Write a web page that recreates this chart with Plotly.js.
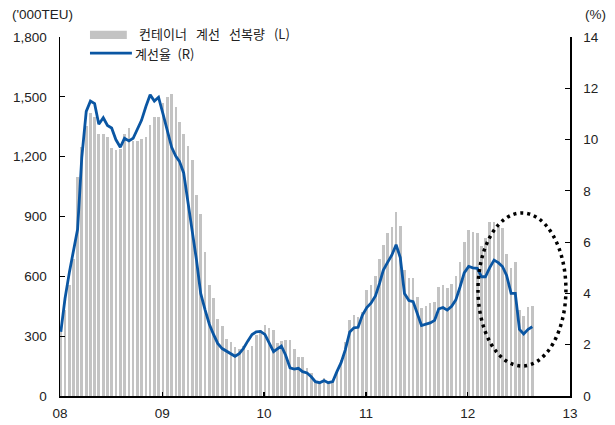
<!DOCTYPE html>
<html>
<head>
<meta charset="utf-8">
<script src="https://cdn.plot.ly/plotly-3.0.1.min.js"></script>
<style>html,body{margin:0;padding:0;background:#fff;}#chart{width:615px;height:425px;}</style>
</head>
<body>
<div id="chart"></div>
<script>
// Semi-monthly observations, Jan 2008 .. Aug 2012
const startYear = 2008;
const idleFleet = [ // '000 TEU (left axis)
  320, 430, 555, 685, 1100, 1250, 1355, 1420, 1400, 1315,
  1315, 1300, 1245, 1235, 1240, 1315, 1345, 1280, 1280, 1290,
  1300, 1360, 1400, 1400, 1470, 1500, 1515, 1450, 1375, 1315,
  1255, 1185, 1010, 915, 720, 555, 490, 385, 350, 285,
  272, 245, 238, 252, 232, 250, 305, 330, 358, 340,
  330, 265, 275, 281, 281, 236, 194, 194, 139, 114,
  72, 67, 92, 72, 72, 122, 180, 272, 381, 406,
  394, 422, 534, 556, 601, 687, 757, 817, 849, 924,
  852, 632, 590, 590, 495, 439, 451, 468, 473, 545,
  556, 540, 561, 602, 673, 770, 832, 824, 815, 750,
  790, 874, 874, 845, 840, 712, 640, 673, 431, 401,
  446, 451
];
const idleRate = [ // % (right axis)
  2.5, 3.8, 4.85, 5.7, 6.5, 9.3, 11.1, 11.5, 11.4, 10.6,
  10.85, 10.55, 10.45, 10.0, 9.7, 10.05, 9.95, 10.05, 10.4, 10.75,
  11.3, 11.75, 11.5, 11.65, 11.0, 10.35, 9.7, 9.35, 9.15, 8.7,
  7.4, 6.4, 5.3, 4.0, 3.35, 2.8, 2.4, 2.05, 1.85, 1.75,
  1.65, 1.55, 1.65, 1.85, 2.15, 2.4, 2.5, 2.52, 2.4, 2.1,
  1.73, 1.85, 1.95, 1.6, 1.1, 1.05, 1.08, 0.95, 0.9, 0.75,
  0.56, 0.52, 0.6, 0.52, 0.56, 0.95, 1.3, 1.8, 2.5, 2.66,
  2.68, 3.15, 3.45, 3.62, 3.9, 4.4, 4.9, 5.2, 5.5, 5.9,
  5.4, 4.0, 3.72, 3.68, 3.2, 2.75, 2.8, 2.85, 2.95, 3.4,
  3.45, 3.35, 3.5, 3.75, 4.25, 4.8, 5.05, 5.0, 4.98, 4.65,
  4.65, 5.0, 5.3, 5.2, 5.05, 4.7, 4.0, 4.0, 2.6, 2.42,
  2.6, 2.7
];
const yearTicks = ['2008-01-01','2009-01-01','2010-01-01','2011-01-01','2012-01-01','2013-01-01'];
const yearLabels = ['08','09','10','11','12','13'];
const leftTicks = [0,300,600,900,1200,1500,1800];
const rightTicks = [0,2,4,6,8,10,12,14];
const barName = '컨테이너\u2002\u2009계선\u2002\u2009선복량\u2002\u2009(L)';
const lineName = '계선율\u2002(R)';

// dates: two observations per month (early and mid-month)
const dates = idleFleet.map((_, i) => {
  const y = startYear + Math.floor(i / 24);
  const m = Math.floor((i % 24) / 2) + 1;
  const d = (i % 2 === 0) ? '04' : '19';
  return y + '-' + String(m).padStart(2, '0') + '-' + d;
});

const tickFont = {family: 'Liberation Sans, Arial, sans-serif', size: 13.5, color: '#222'};
const krFont = {family: 'Noto Sans CJK KR, sans-serif', size: 13, color: '#222'};

const traces = [
  {type: 'bar', x: dates, y: idleFleet, name: barName, yaxis: 'y',
   marker: {color: '#c3c3c3', line: {width: 0}}, width: 9.5 * 86400000,
   hoverinfo: 'x+y'},
  {type: 'scatter', mode: 'lines', x: dates, y: idleRate, name: lineName, yaxis: 'y2',
   line: {color: '#0a56a3', width: 2.8}}
];

const layout = {
  width: 615, height: 425,
  margin: {l: 60, r: 45, t: 37, b: 29, pad: 0},
  paper_bgcolor: '#fff', plot_bgcolor: '#fff',
  showlegend: false, bargap: 0,
  xaxis: {type: 'date', range: ['2008-01-01', '2013-01-01'], tickmode: 'array',
    tickvals: yearTicks, ticktext: yearLabels, ticks: 'inside', ticklen: 4, tickwidth: 1.2,
    tickcolor: '#000', showline: true, linecolor: '#000', linewidth: 1.5,
    showgrid: false, zeroline: false, tickfont: tickFont, ticklabelstandoff: 4},
  yaxis: {range: [0, 1800], tickmode: 'array', tickvals: leftTicks, tickformat: ',',
    ticks: 'inside', ticklen: 5, tickwidth: 1.2, tickcolor: '#000', showline: true,
    linecolor: '#000', linewidth: 1.5, showgrid: false, zeroline: false, tickfont: tickFont,
    ticklabelstandoff: 9},
  yaxis2: {range: [0, 14], tickmode: 'array', tickvals: rightTicks, overlaying: 'y', side: 'right',
    ticks: 'inside', ticklen: 5, tickwidth: 1.2, tickcolor: '#000', showline: true,
    linecolor: '#000', linewidth: 1.5, showgrid: false, zeroline: false, tickfont: tickFont,
    ticklabelstandoff: 9},
  shapes: [
    {type: 'rect', xref: 'paper', yref: 'paper', x0: 0.0588, x1: 0.131, y0: 0.9945, y1: 1.0175,
     fillcolor: '#c3c3c3', line: {width: 0}},
    {type: 'line', xref: 'paper', yref: 'paper', x0: 0.0588, x1: 0.141, y0: 0.955, y1: 0.955,
     line: {color: '#0a56a3', width: 2.8}},
    {type: 'circle', xref: 'paper', yref: 'paper', x0: 0.8196, x1: 0.992, y0: 0.0836, y1: 0.51,
     line: {color: '#000', width: 3.5, dash: '3px,4px'}}
  ],
  annotations: [
    {xref: 'paper', yref: 'paper', x: -0.098, y: 1.064, xanchor: 'left', yanchor: 'middle',
     text: "('000TEU)", showarrow: false, font: tickFont},
    {xref: 'paper', yref: 'paper', x: 1.0255, y: 1.064, xanchor: 'left', yanchor: 'middle',
     text: '(%)', showarrow: false, font: tickFont},
    {xref: 'paper', yref: 'paper', x: 0.15, y: 1.01, xanchor: 'left', yanchor: 'middle',
     text: barName, showarrow: false, font: krFont},
    {xref: 'paper', yref: 'paper', x: 0.143, y: 0.955, xanchor: 'left', yanchor: 'middle',
     text: lineName, showarrow: false, font: krFont}
  ]
};

Plotly.newPlot('chart', traces, layout, {displayModeBar: false, staticPlot: true});
</script>
</body>
</html>
